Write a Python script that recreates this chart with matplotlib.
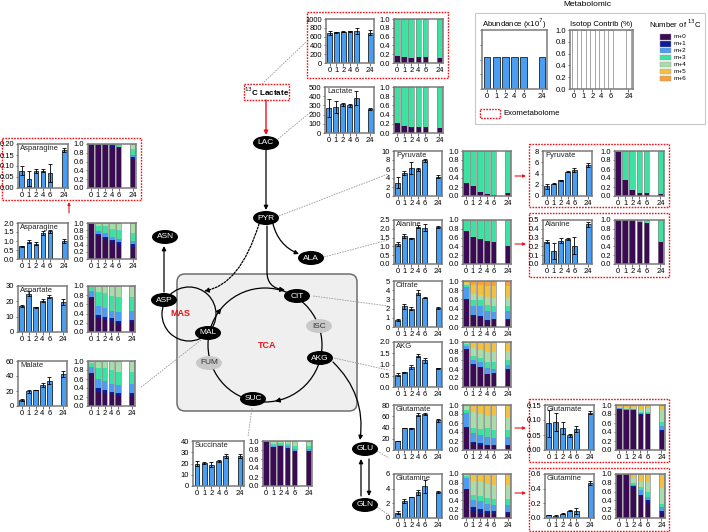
import matplotlib
matplotlib.use("Agg")
import matplotlib.pyplot as plt
from matplotlib.patches import Ellipse, Rectangle, Circle, FancyBboxPatch, FancyArrowPatch
from matplotlib.path import Path
import numpy as np

plt.rcParams['font.family'] = ['Liberation Sans', 'DejaVu Sans']

W, H = 708, 532
fig = plt.figure(figsize=(7.08, 5.32), dpi=100)

# ---------------- data ----------------
times = ["0", "1", "2", "4", "6", "24"]
xpos = [0, 1, 2, 3, 4, 6]
iso_labels = ["m+0", "m+1", "m+2", "m+3", "m+4", "m+5", "m+6"]
iso_colors = ['#3a0a55', '#0d1c98', '#4d9cf2', '#3ce2a2', '#a8dca8', '#f2c23f', '#f7a233']
BAR_BLUE = '#4a9ef2'

exo_lactate_vals = [680, 700, 715, 720, 735, 690]
exo_lactate_errs = [50, 15, 10, 10, 70, 60]
exo_lactate_iso = [[0.15, 0.13, 0.12, 0.13, 0.13, 0.12], [0]*6, [0]*6,
                   [0.85, 0.87, 0.88, 0.87, 0.87, 0.88]]

lactate_vals = [270, 280, 310, 300, 380, 260]
lactate_errs = [100, 65, 20, 20, 75, 15]
lactate_iso = [[0.21, 0.16, 0.13, 0.14, 0.12, 0.10], [0]*6, [0]*6,
               [0.79, 0.84, 0.87, 0.86, 0.88, 0.90]]

exo_asn_vals = [0.078, 0.042, 0.078, 0.079, 0.067, 0.173]
exo_asn_errs = [0.02, 0.035, 0.008, 0.008, 0.04, 0.01]
exo_asn_iso = [[0.99, 0.98, 0.98, 0.94, 0.92, 0.66],
               [0.01, 0.02, 0.02, 0.03, 0.01, 0.04],
               [0, 0, 0, 0.01, 0.01, 0.06],
               [0, 0, 0, 0.02, 0.04, 0.12],
               [0, 0, 0, 0, 0.02, 0.12]]

asn_vals = [0.70, 0.97, 0.86, 1.45, 1.53, 1.0]
asn_errs = [0.05, 0.1, 0.08, 0.12, 0.07, 0.1]
asn_iso = [[0.98, 0.64, 0.56, 0.46, 0.40, 0.33],
           [0.02, 0.06, 0.06, 0.06, 0.06, 0.08],
           [0, 0.08, 0.10, 0.10, 0.10, 0.09],
           [0, 0.14, 0.20, 0.20, 0.24, 0.22],
           [0, 0.08, 0.08, 0.18, 0.20, 0.28]]

asp_vals = [17, 25, 16, 20.5, 23, 19.5]
asp_errs = [0.5, 1.5, 0.5, 1, 1, 2]
asp_iso = [[0.75, 0.30, 0.27, 0.25, 0.19, 0.21],
           [0.02, 0.07, 0.06, 0.05, 0.05, 0.05],
           [0.12, 0.20, 0.19, 0.16, 0.19, 0.20],
           [0.09, 0.30, 0.33, 0.33, 0.33, 0.30],
           [0.02, 0.13, 0.15, 0.21, 0.24, 0.24]]

mal_vals = [8, 19.5, 21.5, 28, 34, 43]
mal_errs = [1, 2, 0.5, 2.5, 5, 4]
mal_iso = [[0.72, 0.32, 0.30, 0.26, 0.22, 0.22],
           [0.02, 0.07, 0.06, 0.06, 0.06, 0.06],
           [0.12, 0.20, 0.20, 0.18, 0.19, 0.20],
           [0.10, 0.26, 0.28, 0.30, 0.28, 0.28],
           [0.04, 0.15, 0.16, 0.20, 0.25, 0.24]]

pyr_vals = [3.0, 5.1, 6.2, 5.9, 7.9, 4.3]
pyr_errs = [1.3, 0.5, 1.3, 0.3, 0.3, 0.3]
pyr_iso = [[0.30, 0.23, 0.10, 0.04, 0.03, 0.07], [0]*6, [0]*6,
           [0.70, 0.77, 0.90, 0.96, 0.97, 0.93]]

ala_vals = [1.15, 1.6, 1.47, 2.12, 2.05, 2.1]
ala_errs = [0.1, 0.1, 0.03, 0.1, 0.2, 0.05]
ala_iso = [[0.76, 0.62, 0.57, 0.53, 0.50, 0.40], [0]*6, [0]*6,
           [0.24, 0.38, 0.43, 0.47, 0.50, 0.60]]

exo_pyr_vals = [1.7, 2.2, 2.8, 4.3, 4.6, 5.5]
exo_pyr_errs = [0.4, 0.15, 0.05, 0.1, 0.3, 0.3]
exo_pyr_iso = [[0.97, 0.36, 0.14, 0.06, 0.06, 0.04], [0]*6, [0]*6,
               [0.03, 0.64, 0.86, 0.94, 0.94, 0.96]]

exo_ala_vals = [0.255, 0.145, 0.265, 0.28, 0.21, 0.45]
exo_ala_errs = [0.02, 0.09, 0.03, 0.01, 0.1, 0.025]
exo_ala_iso = [[1.0, 1.0, 1.0, 0.96, 0.94, 0.49], [0]*6, [0]*6,
               [0, 0, 0, 0.04, 0.06, 0.51]]

cit_vals = [0.8, 2.25, 2.0, 3.75, 3.2, 2.1]
cit_errs = [0.1, 0.3, 0.15, 0.25, 0.05, 0.1]
cit_iso = [[0.58, 0.24, 0.22, 0.14, 0.15, 0.15],
           [0.02, 0.03, 0.03, 0.02, 0.02, 0.02],
           [0.28, 0.18, 0.20, 0.18, 0.16, 0.17],
           [0.04, 0.14, 0.13, 0.13, 0.12, 0.12],
           [0.04, 0.13, 0.12, 0.18, 0.19, 0.18],
           [0.02, 0.20, 0.22, 0.25, 0.26, 0.26],
           [0.02, 0.08, 0.08, 0.10, 0.10, 0.10]]

akg_vals = [0.55, 0.65, 0.88, 1.4, 1.18, 0.84]
akg_errs = [0.08, 0.02, 0.08, 0.05, 0.1, 0.02]
akg_iso = [[0.82, 0.50, 0.42, 0.28, 0.30, 0.37],
           [0.02, 0.02, 0.02, 0.02, 0.02, 0.02],
           [0.08, 0.08, 0.11, 0.12, 0.08, 0.11],
           [0.03, 0.10, 0.10, 0.13, 0.15, 0.10],
           [0.02, 0.16, 0.17, 0.23, 0.23, 0.20],
           [0.03, 0.14, 0.18, 0.22, 0.22, 0.20]]

glu_vals = [16, 39, 38.5, 63, 64, 53]
glu_errs = [0.5, 0.5, 1.5, 3, 1, 3]
glu_iso = [[0.50, 0.15, 0.12, 0.10, 0.09, 0.10],
           [0.02, 0.03, 0.03, 0.02, 0.02, 0.02],
           [0.30, 0.19, 0.18, 0.16, 0.16, 0.18],
           [0.06, 0.13, 0.13, 0.20, 0.18, 0.15],
           [0.10, 0.35, 0.34, 0.28, 0.30, 0.28],
           [0.02, 0.15, 0.20, 0.24, 0.25, 0.27]]

gln_vals = [0.75, 2.3, 2.85, 3.5, 4.3, 3.55]
gln_errs = [0.15, 0.25, 0.05, 0.3, 0.9, 0.15]
gln_iso = [[0.65, 0.15, 0.12, 0.10, 0.09, 0.08],
           [0.02, 0.09, 0.08, 0.06, 0.06, 0.06],
           [0.23, 0.18, 0.18, 0.16, 0.15, 0.16],
           [0.05, 0.10, 0.12, 0.14, 0.14, 0.14],
           [0.05, 0.33, 0.32, 0.32, 0.32, 0.30],
           [0.00, 0.15, 0.18, 0.22, 0.24, 0.26]]

exo_glu_vals = [0.09, 0.095, 0.075, 0.05, 0.07, 0.125]
exo_glu_errs = [0.045, 0.03, 0.02, 0.005, 0.01, 0.005]
exo_glu_iso = [[0.91, 0.89, 0.89, 0.78, 0.80, 0.43],
               [0.01, 0.01, 0.01, 0.01, 0.01, 0.02],
               [0.01, 0.01, 0.01, 0.03, 0.02, 0.09],
               [0.01, 0.01, 0.01, 0.02, 0.02, 0.09],
               [0.02, 0.03, 0.03, 0.08, 0.08, 0.27],
               [0.04, 0.05, 0.05, 0.08, 0.07, 0.10]]

exo_gln_vals = [0.04, 0.03, 0.06, 0.1, 0.1, 0.48]
exo_gln_errs = [0.005, 0.01, 0.005, 0.005, 0.04, 0.03]
exo_gln_iso = [[1.0, 0.99, 0.70, 0.50, 0.34, 0.10],
               [0, 0.01, 0.02, 0.03, 0.06, 0.06],
               [0, 0, 0.04, 0.10, 0.08, 0.08],
               [0, 0, 0.04, 0.07, 0.10, 0.08],
               [0, 0, 0.10, 0.15, 0.24, 0.36],
               [0, 0, 0.10, 0.15, 0.18, 0.32]]

suc_vals = [20, 20.5, 19, 22, 26.5, 26.5]
suc_errs = [2.5, 1, 2, 1, 2, 2]
suc_iso = [[1.0, 0.85, 0.88, 0.82, 0.75, 0.75],
           [0, 0.02, 0.02, 0.03, 0.02, 0.03],
           [0, 0.03, 0.02, 0.03, 0.05, 0.05],
           [0, 0.04, 0.03, 0.05, 0.08, 0.07],
           [0, 0.06, 0.05, 0.07, 0.10, 0.10]]

legend_vals = [0.55, 0.55, 0.55, 0.55, 0.55, 0.55]
legend_iso = [1.0, 1.0, 1.0, 1.0, 1.0, 1.0]

# ---------------- helpers ----------------
SPINE = '#7a7a7a'
FS = 5.5


def ax_px(l, t, r, b, z=2):
    a = fig.add_axes([l / W, 1 - b / H, (r - l) / W, (b - t) / H])
    a.set_zorder(z)
    return a


def style(a):
    for s in a.spines.values():
        s.set_color(SPINE)
        s.set_linewidth(1.1)
    a.tick_params(axis='both', labelsize=FS, length=1.8, width=0.5, pad=1,
                  color='#333333')
    a.set_xticks(xpos)
    a.set_xticklabels(times)


def abundance(box, name, vals, errs, ymax, yticks, fmt):
    l, t, r, b = box
    a = ax_px(l, t, r, b)
    a.bar(xpos, vals, width=0.68, color=BAR_BLUE, edgecolor='black', linewidth=0.5)
    a.errorbar(xpos, vals, yerr=errs, fmt='none', ecolor='black',
               elinewidth=0.6, capsize=1.2, capthick=0.6)
    a.set_xlim(-0.55, 6.55)
    a.set_ylim(0, ymax)
    a.set_yticks(yticks)
    a.set_yticklabels([fmt.format(v) for v in yticks])
    style(a)
    if name:
        a.text(0.04, 0.97, name, transform=a.transAxes, ha='left', va='top',
               fontsize=FS, color='#222222')
    return a


def isotope(box, iso):
    l, t, r, b = box
    a = ax_px(l, t, r, b)
    bottom = np.zeros(len(xpos))
    for k, frac in enumerate(iso):
        frac = np.array(frac, dtype=float)
        a.bar(xpos, frac, width=0.8, bottom=bottom, color=iso_colors[k],
              edgecolor='none', linewidth=0)
        bottom = bottom + frac
    a.bar(xpos, bottom, width=0.8, fill=False, edgecolor='#8a8a8a', linewidth=0.5)
    a.set_xlim(-0.45, 6.5)
    a.set_ylim(0, 1.0)
    yt = [0, 0.2, 0.4, 0.6, 0.8, 1.0]
    a.set_yticks(yt)
    a.set_yticklabels(["{:.1f}".format(v) for v in yt])
    style(a)
    return a


def pair(bar_box, iso_lr, name, vals, errs, ymax, yticks, fmt, iso):
    abundance(bar_box, name, vals, errs, ymax, yticks, fmt)
    isotope((iso_lr[0], bar_box[1], iso_lr[1], bar_box[3]), iso)


# ---------------- background / diagram ----------------
bg = fig.add_axes([0, 0, 1, 1])
bg.set_zorder(0)
bg.set_xlim(0, W)
bg.set_ylim(H, 0)
bg.axis('off')

RED = '#e8141a'


def red_box(l, t, r, b):
    bg.add_patch(Rectangle((l, t), r - l, b - t, fill=False, edgecolor=RED,
                           linestyle=(0, (1.2, 0.9)), linewidth=1.0))


def node(x, y, label, dark=True, w=26, h=14):
    fc = 'black' if dark else '#c9c9c9'
    tc = 'white' if dark else '#333333'
    bg.add_patch(Ellipse((x, y), w, h, facecolor=fc, edgecolor='none', zorder=5))
    bg.text(x, y, label, ha='center', va='center', fontsize=6, color=tc, zorder=6)


def arrow(p0, p1, color='black', style='-|>', rad=0.0, ls='-', lw=0.9, ms=6):
    bg.add_patch(FancyArrowPatch(p0, p1, arrowstyle=style, mutation_scale=ms,
                                 color=color, linewidth=lw, linestyle=ls,
                                 connectionstyle="arc3,rad=%s" % rad, zorder=4,
                                 shrinkA=0, shrinkB=0))


def gline(p0, p1):
    bg.plot([p0[0], p1[0]], [p0[1], p1[1]], color='#9a9a9a', linewidth=0.6,
            linestyle=(0, (2, 1.2)), zorder=3)


# TCA box
bg.add_patch(FancyBboxPatch((177, 274), 180, 137, boxstyle="round,pad=0,rounding_size=8",
                            facecolor='#efefef', edgecolor='#6e6e6e', linewidth=1.1, zorder=1))
# TCA circle
cx, cy, rr = 265, 345, 57
bg.add_patch(Circle((cx, cy), rr, fill=False, edgecolor='black', linewidth=0.9, zorder=2))
for th in [142, -78]:
    t = np.deg2rad(th)
    px, py = cx + rr * np.cos(t), cy - rr * np.sin(t)
    dx, dy = np.sin(t), np.cos(t)
    arrow((px - 3 * dx, py - 3 * dy), (px + 2 * dx, py + 2 * dy), ms=7)
# MAS circle
mx, my, mr = 189, 314, 27
bg.add_patch(Circle((mx, my), mr, fill=False, edgecolor='black', linewidth=0.9, zorder=2))

bg.text(180, 314, "MAS", color=RED, fontsize=6.5, fontweight='bold', ha='center', va='center', zorder=6)
bg.text(267, 345, "TCA", color=RED, fontsize=6.5, fontweight='bold', ha='center', va='center', zorder=6)

# 13C lactate label
red_box(244, 84, 289, 100)
bg.text(266.5, 92, "$^{13}$C Lactate", ha='center', va='center', fontsize=5.8,
        fontweight='bold', zorder=6)
arrow((266, 100), (266, 135), color=RED, lw=1.0)

# pathway arrows
arrow((266, 150), (266, 210))
arrow((273, 224), (299, 254), rad=0.25)
path = Path([(267, 226), (267, 272), (267, 288), (285, 290)],
            [Path.MOVETO, Path.LINETO, Path.CURVE3, Path.CURVE3])
bg.add_patch(FancyArrowPatch(path=path, arrowstyle='-|>', mutation_scale=7,
                             color='black', linewidth=0.9, zorder=4))
path2 = Path([(259, 224), (240, 285), (204, 291)],
             [Path.MOVETO, Path.CURVE3, Path.CURVE3])
bg.add_patch(FancyArrowPatch(path=path2, arrowstyle='-|>', mutation_scale=7,
                             color='black', linewidth=0.9, linestyle=(0, (1.5, 1.2)), zorder=4))
arrow((164, 292), (164, 246))
arrow((333, 362), (360, 440), rad=-0.25)
arrow((361, 496), (361, 459))
arrow((369, 459), (369, 496))

# gray connectors
gline((278, 139), (312, 111))
gline((262, 84), (306, 42))
gline((279, 216), (388, 174))
gline((324, 257), (388, 240))
gline((313, 296), (388, 306))
gline((334, 358), (388, 370))
gline((377, 451), (389, 458))
gline((377, 507), (389, 515))
gline((201, 340), (140, 388))
gline((252, 408), (248, 437))

# nodes
node(266, 143, "LAC")
node(266, 218, "PYR")
node(311, 258, "ALA")
node(165, 237, "ASN")
node(164, 300, "ASP")
node(208, 333, "MAL")
node(297, 296, "CIT")
node(319, 326, "ISC", dark=False)
node(320, 358, "AKG")
node(209, 363, "FUM", dark=False)
node(253, 399, "SUC")
node(365, 449, "GLU")
node(365, 505, "GLN")

# red small arrows to exometabolome
for yy in [176, 244, 428, 493]:
    arrow((515, yy), (526, yy), color=RED, lw=0.8, ms=4)
arrow((69, 213), (69, 202), color=RED, lw=0.8, ms=4)

# red exometabolome boxes
red_box(307, 12, 448, 78)
red_box(2, 138, 141, 200)
red_box(529, 144, 669, 207)
red_box(529, 213, 669, 277)
red_box(529, 399, 669, 462)
red_box(529, 468, 669, 531)

# legend box
bg.add_patch(Rectangle((475, 13), 230, 111, fill=False, edgecolor='#c8c8c8', linewidth=0.8))
bg.text(587, 5, "Metabolomic", ha='center', va='center', fontsize=6)
bg.text(514, 24, "Abundance (x10$^7$)", ha='center', va='center', fontsize=5.6)
bg.text(601, 24, "Isotop Contrib (%)", ha='center', va='center', fontsize=5.6)
bg.text(675, 24, "Number of $^{13}$C", ha='center', va='center', fontsize=5.6)
for k, lab in enumerate(iso_labels):
    yy = 37 + k * 6.9
    bg.add_patch(Rectangle((660, yy - 2.6), 11, 5.2, facecolor=iso_colors[k],
                           edgecolor='#999999', linewidth=0.3))
    bg.text(674, yy, lab, ha='left', va='center', fontsize=4.6)
red_box(480, 109, 500, 118)
bg.text(503, 113.5, "Exometabolome", ha='left', va='center', fontsize=5.6)

# ---------------- panels ----------------
# legend panels
la = ax_px(482, 30, 547, 89)
la.bar(xpos, legend_vals, width=0.75, color=BAR_BLUE, edgecolor='black', linewidth=0.5)
la.set_xlim(-0.55, 6.55)
la.set_ylim(0, 1)
la.set_yticks([0, 0.25, 0.5, 0.75, 1.0])
la.set_yticklabels([])
style(la)
lb = ax_px(570, 30, 633, 89)
lb.bar(xpos, legend_iso, width=0.55, color='white', edgecolor='#999999', linewidth=0.6)
lb.set_xlim(-0.45, 6.5)
lb.set_ylim(0, 1)
lb.set_yticks([0, 0.2, 0.4, 0.6, 0.8, 1.0])
lb.set_yticklabels(["0.0", "0.2", "0.4", "0.6", "0.8", "1.0"])
style(lb)

pair((326, 19, 374, 63), (394, 443), None, exo_lactate_vals, exo_lactate_errs,
     1000, [0, 200, 400, 600, 800, 1000], "{:.0f}", exo_lactate_iso)
pair((325, 87, 374, 133), (394, 443), "Lactate", lactate_vals, lactate_errs,
     500, [0, 100, 200, 300, 400, 500], "{:.0f}", lactate_iso)
pair((18, 144, 68, 188), (88, 136), "Asparagine", exo_asn_vals, exo_asn_errs,
     0.2, [0, 0.05, 0.10, 0.15, 0.20], "{:.2f}", exo_asn_iso)
pair((18, 223, 68, 259), (88, 136), "Asparagine", asn_vals, asn_errs,
     2.0, [0, 0.5, 1.0, 1.5, 2.0], "{:.1f}", asn_iso)
pair((18, 286, 67, 332), (88, 135), "Aspartate", asp_vals, asp_errs,
     30, [0, 10, 20, 30], "{:.0f}", asp_iso)
pair((18, 361, 67, 406), (88, 135), "Malate", mal_vals, mal_errs,
     60, [0, 20, 40, 60], "{:.0f}", mal_iso)
pair((394, 151, 442, 196), (463, 511), "Pyruvate", pyr_vals, pyr_errs,
     10, [0, 2, 4, 6, 8, 10], "{:.0f}", pyr_iso)
pair((394, 220, 442, 264), (463, 511), "Alanine", ala_vals, ala_errs,
     2.5, [0, 0.5, 1.0, 1.5, 2.0, 2.5], "{:.1f}", ala_iso)
pair((394, 281, 442, 327), (463, 511), "Citrate", cit_vals, cit_errs,
     5, [0, 1, 2, 3, 4, 5], "{:.0f}", cit_iso)
pair((394, 342, 442, 387), (463, 511), "AKG", akg_vals, akg_errs,
     2.0, [0, 0.5, 1.0, 1.5, 2.0], "{:.1f}", akg_iso)
pair((394, 405, 442, 450), (463, 511), "Glutamate", glu_vals, glu_errs,
     80, [0, 20, 40, 60, 80], "{:.0f}", glu_iso)
pair((394, 474, 442, 518), (463, 511), "Glutamine", gln_vals, gln_errs,
     6, [0, 2, 4, 6], "{:.0f}", gln_iso)
pair((543, 151, 592, 196), (615, 664), "Pyruvate", exo_pyr_vals, exo_pyr_errs,
     8, [0, 2, 4, 6, 8], "{:.0f}", exo_pyr_iso)
pair((543, 220, 592, 264), (615, 664), "Alanine", exo_ala_vals, exo_ala_errs,
     0.5, [0, 0.1, 0.2, 0.3, 0.4, 0.5], "{:.1f}", exo_ala_iso)
pair((545, 405, 594, 450), (616, 665), "Glutamate", exo_glu_vals, exo_glu_errs,
     0.15, [0, 0.05, 0.10, 0.15], "{:.2f}", exo_glu_iso)
pair((545, 474, 594, 518), (616, 665), "Glutamine", exo_gln_vals, exo_gln_errs,
     0.6, [0, 0.2, 0.4, 0.6], "{:.1f}", exo_gln_iso)
pair((193, 441, 244, 486), (263, 312), "Succinate", suc_vals, suc_errs,
     40, [0, 10, 20, 30, 40], "{:.0f}", suc_iso)

fig.savefig("out.png", dpi=100)
